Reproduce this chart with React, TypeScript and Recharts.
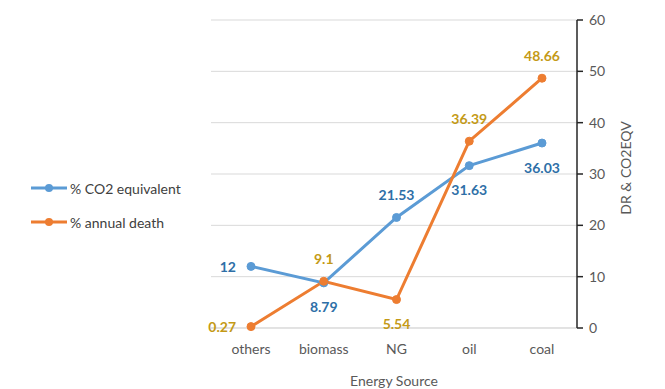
import React from "react";
import {
  LineChart,
  Line,
  XAxis,
  YAxis,
  CartesianGrid,
  LabelList,
} from "recharts";

// Energy sources along the x axis
const categories = ["others", "biomass", "NG", "oil", "coal"];
// Share of CO2-equivalent emissions (%)
const co2Equivalent = [12, 8.79, 21.53, 31.63, 36.03];
// Share of annual deaths (%)
const annualDeath = [0.27, 9.1, 5.54, 36.39, 48.66];
// Right-axis ticks
const yTicks = [0, 10, 20, 30, 40, 50, 60];

// Where each value label sits relative to its point
const co2LabelSide = ["left", "bottom", "top", "bottom", "bottom"];
const deathLabelSide = ["left", "top", "bottom", "top", "top"];

const data = categories.map((name, i) => ({
  name,
  co2: co2Equivalent[i],
  death: annualDeath[i],
}));

const BLUE = "#5B9BD5";
const ORANGE = "#ED7D31";
const BLUE_TEXT = "#2E6FA7";
const GOLD_TEXT = "#C49A17";
const FONT = "Lato, 'Open Sans', sans-serif";

const legendItems = [
  { label: "% CO2 equivalent", color: BLUE },
  { label: "% annual death", color: ORANGE },
];

const makeLabel =
  (sides: string[], color: string) =>
  (props: any) => {
    const { x, y, value, index } = props;
    const side = sides[index];
    let tx = x;
    let ty = y;
    let anchor: "start" | "middle" | "end" = "middle";
    if (side === "left") {
      tx = x - 15;
      anchor = "end";
    } else if (side === "top") {
      ty = y - 23;
    } else {
      ty = y + 24;
    }
    return (
      <text
        x={tx}
        y={ty}
        textAnchor={anchor}
        dominantBaseline="central"
        fill={color}
        fontFamily={FONT}
        fontWeight={700}
        fontSize={14}
      >
        {value}
      </text>
    );
  };

const SeriesLegend = () => (
  <div
    style={{
      position: "absolute",
      left: 30,
      top: 171,
      fontFamily: FONT,
      fontSize: 14,
      color: "#404040",
    }}
  >
    {legendItems.map((it) => (
      <div
        key={it.label}
        style={{ display: "flex", alignItems: "center", height: 34 }}
      >
        <svg width={38} height={10} style={{ marginRight: 2 }}>
          <line x1={1} y1={5} x2={37} y2={5} stroke={it.color} strokeWidth={3} />
          <circle cx={19} cy={5} r={4} fill={it.color} />
        </svg>
        <span>{it.label}</span>
      </div>
    ))}
  </div>
);

export default function App() {
  return (
    <div
      style={{
        position: "absolute",
        left: 0,
        top: 0,
        width: 665,
        height: 389,
        background: "#fff",
      }}
    >
      <LineChart
        width={665}
        height={389}
        data={data}
        margin={{ top: 20, right: 0, bottom: 0, left: 211 }}
      >
        <CartesianGrid vertical={false} stroke="#D9D9D9" />
        <XAxis
          dataKey="name"
          padding={{ left: 40, right: 35 }}
          axisLine={{ stroke: "#D9D9D9" }}
          tickLine={false}
          height={61}
          tickMargin={10}
          tick={{ fill: "#595959", fontSize: 14, fontFamily: FONT }}
          label={{
            value: "Energy Source",
            position: "insideBottom",
            offset: 3,
            fill: "#595959",
            fontSize: 14,
            fontFamily: FONT,
          }}
        />
        <YAxis
          orientation="right"
          domain={[0, 60]}
          ticks={yTicks}
          width={88}
          axisLine={{ stroke: "#262626", strokeWidth: 1.5 }}
          tickLine={{ stroke: "#262626", strokeWidth: 1.5 }}
          tickSize={6}
          tickMargin={6}
          tick={{ fill: "#595959", fontSize: 14, fontFamily: FONT }}
          label={{
            value: "DR & CO2EQV",
            angle: -90,
            position: "center",
            dx: 5,
            dy: -6,
            fill: "#595959",
            fontSize: 14,
            fontFamily: FONT,
          }}
        />
        <Line
          type="linear"
          dataKey="co2"
          stroke={BLUE}
          strokeWidth={3}
          dot={{ r: 4, fill: BLUE, stroke: BLUE, strokeWidth: 1 }}
          activeDot={false}
          isAnimationActive={false}
        >
          <LabelList dataKey="co2" content={makeLabel(co2LabelSide, BLUE_TEXT)} />
        </Line>
        <Line
          type="linear"
          dataKey="death"
          stroke={ORANGE}
          strokeWidth={3}
          dot={{ r: 4, fill: ORANGE, stroke: ORANGE, strokeWidth: 1 }}
          activeDot={false}
          isAnimationActive={false}
        >
          <LabelList dataKey="death" content={makeLabel(deathLabelSide, GOLD_TEXT)} />
        </Line>
      </LineChart>
      <SeriesLegend />
    </div>
  );
}
